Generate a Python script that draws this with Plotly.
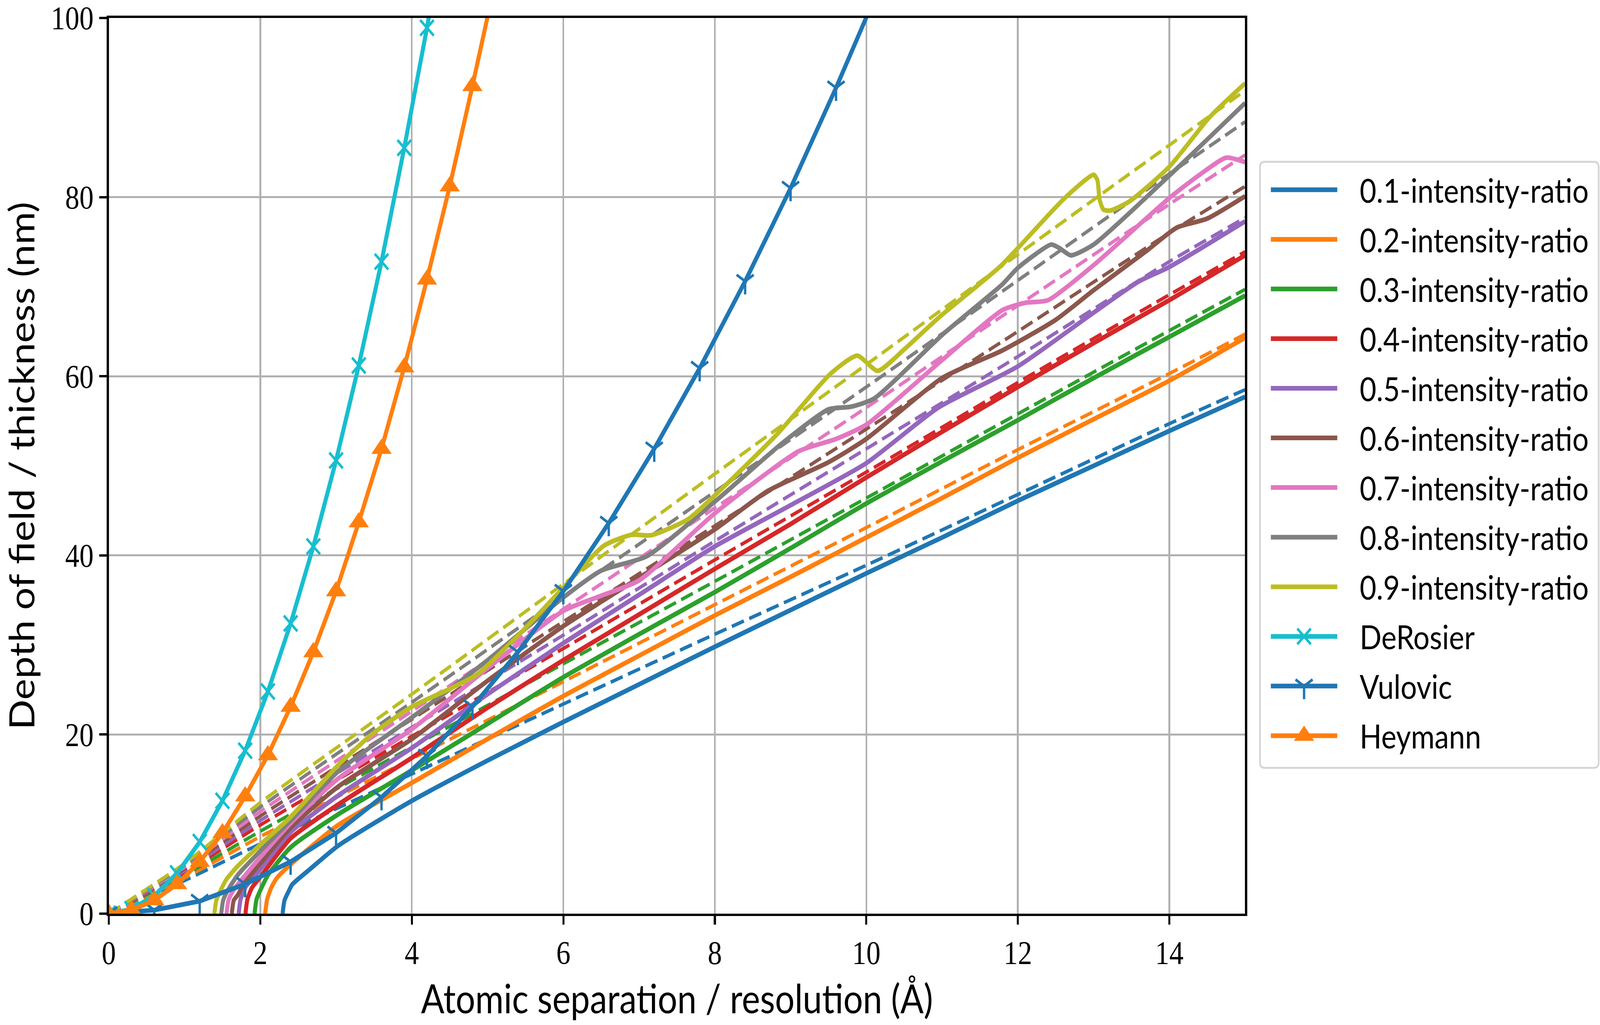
import plotly.graph_objects as go

# colours (matplotlib tab10)
C = ['#1f77b4', '#ff7f0e', '#2ca02c', '#d62728', '#9467bd',
     '#8c564b', '#e377c2', '#7f7f7f', '#bcbd22', '#17becf']

ratio_names = ['0.1-intensity-ratio', '0.2-intensity-ratio', '0.3-intensity-ratio',
               '0.4-intensity-ratio', '0.5-intensity-ratio', '0.6-intensity-ratio',
               '0.7-intensity-ratio', '0.8-intensity-ratio', '0.9-intensity-ratio']

# solid curves
r01_x = [2.294, 2.32, 2.38, 2.42, 2.66, 3.03, 4.0, 5.0, 6.0, 7.0, 8.0, 9.0, 10.0, 11.0, 12.0, 13.0, 14.0, 15.0]
r01_y = [0, 1.5, 2.6, 3.25, 5.0, 7.6, 12.6, 17.1, 21.4, 25.6, 29.8, 33.9, 38.0, 42.0, 46.1, 50.0, 53.9, 57.7]

r02_x = [2.064, 2.09, 2.15, 2.22, 2.4, 3.03, 4.0, 5.0, 6.0, 7.0, 8.0, 9.0, 10.0, 11.0, 12.0, 13.0, 14.0, 15.0]
r02_y = [0, 1.6, 3.0, 4.0, 5.5, 9.9, 14.6, 19.5, 24.3, 28.8, 33.3, 37.6, 42.0, 46.4, 50.9, 55.2, 59.5, 64.3]

r03_x = [1.924, 1.95, 2.0, 2.1, 2.4, 3.03, 4.0, 5.0, 6.0, 7.0, 8.0, 9.0, 10.0, 11.0, 12.0, 13.0, 14.0, 15.0]
r03_y = [0, 1.6, 2.6, 4.3, 7.4, 11.1, 16.0, 21.2, 26.4, 31.2, 35.9, 40.8, 45.8, 50.5, 55.1, 59.8, 64.4, 69.0]

r04_x = [1.804, 1.83, 1.89, 2.0, 2.4, 3.03, 4.0, 5.0, 6.0, 7.0, 8.0, 9.0, 10.0, 11.0, 12.0, 13.0, 14.0, 15.0]
r04_y = [0, 1.6, 2.9, 4.1, 8.4, 12.2, 17.4, 23.0, 28.3, 33.4, 38.5, 43.5, 48.7, 53.8, 58.8, 63.7, 68.5, 73.5]

r05_x = [1.714, 1.74, 1.8, 1.9, 2.0, 2.4, 3.03, 4.0, 5.0, 6.0, 7.0, 8.0, 9.0, 10.0, 10.95, 12.0, 13.0, 13.6, 14.0, 15.0]
r05_y = [0, 1.6, 2.9, 4.0, 4.95, 9.1, 13.2, 18.5, 24.5, 30.2, 35.6, 41.0, 45.6, 50.3, 56.5, 61.1, 67.1, 70.6, 72.2, 77.3]

r06_x = [1.624, 1.65, 1.7, 1.8, 2.0, 2.4, 3.03, 4.0, 5.0, 6.0, 7.0, 8.0, 8.7, 9.5, 10.0, 11.0, 11.8,
         12.5, 13.0, 13.7, 14.1, 14.5, 15.0]
r06_y = [0, 1.5, 2.05, 3.6, 5.6, 9.6, 14.2, 19.5, 26.0, 32.1, 37.5, 42.9, 47.2, 50.4, 53.0, 59.8, 62.9,
         66.3, 69.6, 74.0, 76.6, 77.6, 80.1]

r07_x = [1.554, 1.58, 1.63, 1.7, 2.0, 2.4, 3.03, 4.0, 5.0, 6.0, 6.5, 7.0, 8.0, 9.1, 9.6, 10.0, 11.0,
         11.8, 12.1, 12.4, 13.0, 14.0, 14.4, 14.75, 15.0]
r07_y = [0, 1.5, 2.4, 3.25, 6.3, 10.1, 15.1, 20.6, 27.4, 33.8, 35.5, 37.2, 44.7, 51.6, 53.0, 54.6, 61.8,
         67.4, 68.2, 68.5, 72.4, 79.9, 82.5, 84.4, 83.9]

r08_x = [1.484, 1.51, 1.57, 1.7, 2.0, 2.4, 3.03, 4.0, 5.0, 6.0, 6.5, 7.1, 8.0, 8.9, 9.5, 9.8, 10.1,
         11.0, 11.8, 12.0, 12.44, 12.55, 12.7, 13.0, 14.0, 15.0]
r08_y = [0, 1.5, 2.6, 4.3, 7.0, 10.4, 15.9, 21.9, 28.3, 35.3, 38.3, 39.9, 46.0, 52.6, 56.3, 56.6, 57.5,
         64.6, 70.3, 72.1, 74.7, 74.3, 73.5, 74.7, 82.4, 90.5]

r09_x = [1.394, 1.42, 1.484, 1.55, 1.7, 2.0, 2.4, 3.03, 3.5, 4.0, 4.5, 4.86, 5.42, 6.0, 6.53, 6.9, 7.16,
         7.64, 8.0, 8.83, 9.53, 9.88, 10.15, 10.5, 10.95, 11.76, 12.0, 12.62, 13.0, 13.05, 13.08, 13.13,
         13.22, 13.47, 14.0, 14.54, 15.0]
r09_y = [0, 1.5, 2.74, 3.8, 5.3, 7.7, 10.8, 16.6, 20.2, 23.1, 25.1, 26.7, 31.2, 36.4, 41.05, 42.3, 42.25,
         44.0, 46.7, 53.6, 60.3, 62.3, 60.6, 63.0, 66.5, 72.2, 74.3, 79.9, 82.5, 81.9, 79.7, 78.6,
         78.5, 79.5, 83.4, 89.0, 92.7]

# dashed curves
dash_x = [0, 1, 2, 4, 6, 8, 10, 12, 14, 15]
d01_y = [0, 3.7, 7.8, 15.6, 23.4, 31.2, 38.9, 46.8, 54.7, 58.5]
d02_y = [0, 4.0, 8.6, 17.3, 25.9, 34.5, 43.1, 51.8, 60.3, 64.7]
d03_y = [0, 4.3, 9.2, 18.6, 27.9, 37.1, 46.4, 55.8, 65.1, 69.7]
d04_y = [0, 4.6, 9.9, 19.8, 29.6, 39.5, 49.3, 59.3, 69.1, 73.9]
d05_y = [0, 4.8, 10.4, 20.8, 31.1, 41.6, 51.9, 62.2, 72.8, 77.7]
d06_y = [0, 5.0, 10.9, 21.7, 32.6, 43.3, 54.1, 65.0, 76.0, 81.2]
d07_y = [0, 5.2, 11.4, 22.6, 34.0, 45.3, 56.5, 67.9, 79.2, 84.7]
d08_y = [0, 5.4, 11.9, 23.6, 35.4, 47.1, 58.8, 70.7, 82.6, 88.4]
d09_y = [0, 5.6, 12.4, 24.5, 36.8, 49.1, 61.3, 73.6, 85.8, 91.9]

# reference models
derosier_x = [0, 0.3, 0.6, 0.9, 1.2, 1.5, 1.8, 2.1, 2.4, 2.7, 3.0, 3.3, 3.6, 3.9, 4.2, 4.5]
derosier_y = [0, 0.5, 2.0, 4.5, 8.0, 12.6, 18.2, 24.8, 32.4, 41.0, 50.6, 61.2, 72.8, 85.5, 98.9, 113.5]

vulovic_x = [0, 0.6, 1.2, 1.8, 2.4, 3.0, 3.6, 4.2, 4.8, 5.4, 6.0, 6.6, 7.2, 7.8, 8.4, 9.0, 9.6, 10.2]
vulovic_y = [0, 0.4, 1.4, 3.3, 5.8, 9.0, 13.0, 17.6, 23.1, 29.2, 36.0, 43.6, 51.9, 60.9, 70.6, 81.0, 92.2, 104.0]

heymann_x = [0, 0.3, 0.6, 0.9, 1.2, 1.5, 1.8, 2.1, 2.4, 2.7, 3.0, 3.3, 3.6, 3.9, 4.2, 4.5, 4.8, 5.1]
heymann_y = [0, 0.4, 1.5, 3.3, 5.8, 9.0, 13.1, 17.7, 23.1, 29.2, 36.0, 43.7, 51.9, 61.0, 70.8, 81.2, 92.4, 104.0]

solid = [(r01_x, r01_y), (r02_x, r02_y), (r03_x, r03_y), (r04_x, r04_y), (r05_x, r05_y),
         (r06_x, r06_y), (r07_x, r07_y), (r08_x, r08_y), (r09_x, r09_y)]
dashed = [d01_y, d02_y, d03_y, d04_y, d05_y, d06_y, d07_y, d08_y, d09_y]

W, H = 4720, 2624
PL, PR, PT, PB = 321, 3673, 29, 2339     # plot area in px
LW = 12
mk_x = dict(symbol='x-thin', size=40, color=C[9], line=dict(color=C[9], width=7))
mk_y = dict(symbol='y-down', size=42, color=C[0], line=dict(color=C[0], width=7))
mk_t = dict(symbol='triangle-up', size=52, color=C[1])

fig = go.Figure()
for i in range(9):
    sx, sy = solid[i]
    fig.add_trace(go.Scatter(x=sx, y=sy, mode='lines', name=ratio_names[i], showlegend=False,
                             line=dict(color=C[i], width=LW, shape='spline', smoothing=0.6)))
    fig.add_trace(go.Scatter(x=dash_x, y=dashed[i], mode='lines', showlegend=False,
                             line=dict(color=C[i], width=9, dash='38px,17px', shape='spline', smoothing=0.6)))

fig.add_trace(go.Scatter(x=derosier_x, y=derosier_y, mode='lines+markers', name='DeRosier',
                         showlegend=False, line=dict(color=C[9], width=LW), marker=mk_x))
fig.add_trace(go.Scatter(x=vulovic_x, y=vulovic_y, mode='lines+markers', name='Vulovic',
                         showlegend=False, line=dict(color=C[0], width=LW), marker=mk_y))
fig.add_trace(go.Scatter(x=heymann_x, y=heymann_y, mode='lines+markers', name='Heymann',
                         showlegend=False, line=dict(color=C[1], width=LW), marker=mk_t))

# hand-made legend on a hidden pixel-unit axis to the right of the plot
leg_items = [(n, C[i], None) for i, n in enumerate(ratio_names)] + \
            [('DeRosier', C[9], mk_x), ('Vulovic', C[0], mk_y), ('Heymann', C[1], mk_t)]
LEG_L, LEG_R, LEG_T, LEG_B = 3717, 4716, 400, 1963
ROW0, ROW_H = 472, 128
SAMPLE_L, SAMPLE_R, TEXT_L = 3749, 3945, 4009
rr = 14
box = ('M %d,%d H %d Q %d,%d %d,%d V %d Q %d,%d %d,%d H %d Q %d,%d %d,%d V %d Q %d,%d %d,%d Z' %
       (LEG_L + rr, LEG_T, LEG_R - rr, LEG_R, LEG_T, LEG_R, LEG_T + rr, LEG_B - rr,
        LEG_R, LEG_B, LEG_R - rr, LEG_B, LEG_L + rr, LEG_L, LEG_B, LEG_L, LEG_B - rr,
        LEG_T + rr, LEG_L, LEG_T, LEG_L + rr, LEG_T))
fig.add_shape(type='path', path=box, xref='x2', yref='y2', layer='below',
              line=dict(color='#d5d5d5', width=5), fillcolor='white')
for k, (name, col, mk) in enumerate(leg_items):
    yy = ROW0 + k * ROW_H
    fig.add_trace(go.Scatter(x=[SAMPLE_L, SAMPLE_R], y=[yy, yy], mode='lines', xaxis='x2', yaxis='y2',
                             showlegend=False, hoverinfo='skip', line=dict(color=col, width=LW)))
    if mk is not None:
        fig.add_trace(go.Scatter(x=[(SAMPLE_L + SAMPLE_R) / 2], y=[yy], mode='markers',
                                 xaxis='x2', yaxis='y2', showlegend=False, hoverinfo='skip', marker=mk))
    fig.add_annotation(x=TEXT_L, y=yy, xref='x2', yref='y2', text=name, showarrow=False,
                       xanchor='left', yanchor='middle',
                       font=dict(family='Lato', size=85, color='black'))

tick_font = dict(family='Liberation Serif', size=84, color='black')
axis_common = dict(showgrid=True, gridcolor='#b0b0b0', gridwidth=5, zeroline=False,
                   showline=True, linecolor='black', linewidth=6, mirror=True,
                   ticks='outside', ticklen=22, tickwidth=6, tickcolor='black',
                   tickfont=tick_font, ticklabeloverflow='allow')
dom = (PR - PL) / (W - PL)

fig.update_layout(
    width=W, height=H, showlegend=False,
    margin=dict(l=PL, r=0, t=PT, b=H - PB, pad=0),
    paper_bgcolor='white', plot_bgcolor='white',
    xaxis=dict(range=[0, 15], domain=[0, dom], tickvals=[0, 2, 4, 6, 8, 10, 12, 14],
               title=dict(text='Atomic separation / resolution (Å)',
                          font=dict(family='Lato', size=102, color='black'), standoff=40),
               **axis_common),
    yaxis=dict(range=[0, 100], tickvals=[0, 20, 40, 60, 80, 100],
               title=dict(text='Depth of field / thickness (nm)',
                          font=dict(family='Lato', size=102, color='black'), standoff=30),
               **axis_common),
    xaxis2=dict(domain=[dom, 1], range=[PR, W], visible=False, anchor='y2'),
    yaxis2=dict(domain=[0, 1], range=[PB, PT], visible=False, anchor='x2'),
)

# fit the 4720x2624 figure to whatever viewport the page is opened in
fit = """
document.body.style.margin = '0';
document.body.style.overflow = 'hidden';
var gd = document.getElementById('{plot_id}');
gd.style.transformOrigin = '0 0';
gd.style.transform = 'scale(' + (window.innerWidth / 4720) + ',' + (window.innerHeight / 2624) + ')';
"""
fig.write_html("out.html", post_script=fit, config={'displayModeBar': False})
